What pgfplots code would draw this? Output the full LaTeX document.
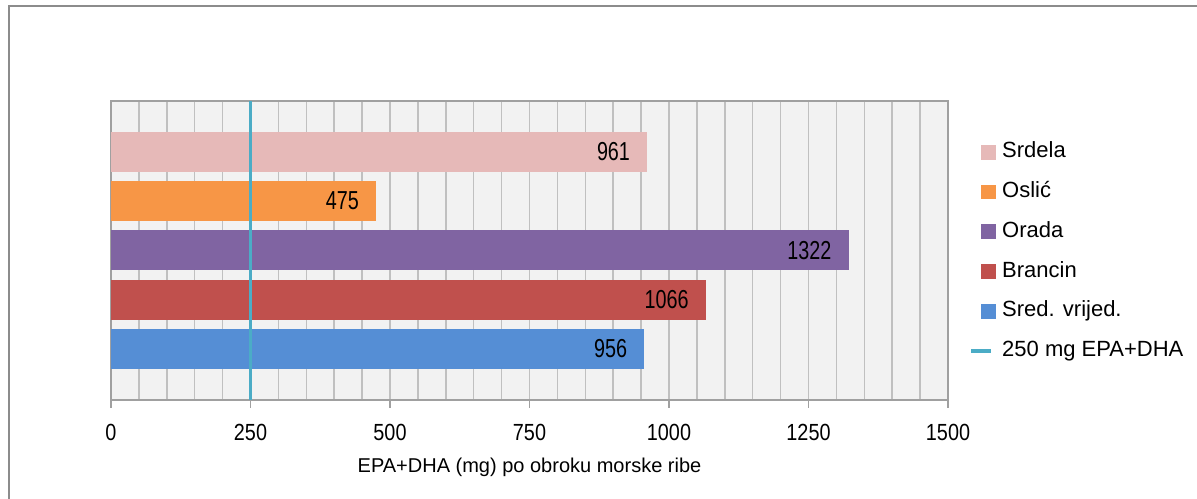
\documentclass[border=0pt]{standalone}
\usepackage{fontspec}
\setmainfont{Liberation Sans}
\newfontfamily\barfont[FakeStretch=0.76]{Liberation Sans}
\newfontfamily\tickfont[FakeStretch=0.85]{Liberation Sans}
\usepackage{pgfplots}
\pgfplotsset{compat=1.18}

\definecolor{srdela}{HTML}{E6B9B8}
\definecolor{oslic}{HTML}{F79646}
\definecolor{orada}{HTML}{8064A2}
\definecolor{brancin}{HTML}{C0504D}
\definecolor{sred}{HTML}{558ED5}
\definecolor{limit}{HTML}{4BACC6}
\definecolor{plotbg}{HTML}{F2F2F2}
\definecolor{gridgray}{HTML}{C0C0C0}
\definecolor{axisgray}{HTML}{A0A0A0}
\definecolor{framegray}{HTML}{8C8C8C}

\pgfplotsset{
  barleg/.style={legend image code/.code={
      \path[draw=none, fill=none] (0pt,-5.6pt) rectangle (18.75pt,5.6pt);
      \fill[##1, draw=none] (7.5pt,-5.6pt) rectangle (18.75pt,5.6pt);}},
  lineleg/.style={legend image code/.code={
      \path[draw=none, fill=none] (0pt,-5.6pt) rectangle (18.75pt,5.6pt);
      \draw[##1] (0pt,0pt) -- (15pt,0pt);}},
  serie/.style={fill=#1, draw=none, barleg,
      nodes near coords, point meta=x,
      nodes near coords style={anchor=east, inner sep=0pt, xshift=-12.75pt,
        text=black, font=\barfont\fontsize{19.5}{21}\selectfont}},
}

\begin{document}
\begin{tikzpicture}
\useasboundingbox (0,0) rectangle (897.75pt,374.25pt);
% okvir grafikona (desni i donji rub izvan slike)
\draw[framegray, line width=1.5pt] (6.75pt,-20pt) -- (6.75pt,370.1pt) -- (930pt,370.1pt);
\begin{axis}[
  at={(83.25pt,74.25pt)}, anchor=south west,
  scale only axis, width=627.75pt, height=224.25pt,
  xmin=0, xmax=1500, ymin=-1.036, ymax=5.028,
  xbar, bar width=0.811, bar shift=0pt,
  axis background/.style={fill=plotbg},
  xtick={0,250,...,1500}, minor xtick={0,50,...,1500},
  ytick=\empty,
  xmajorgrids, xminorgrids,
  major grid style={gridgray, line width=1.1pt},
  minor grid style={gridgray, line width=1.1pt},
  axis line style={axisgray, line width=1.5pt},
  tick style={axisgray, line width=1.1pt},
  xtick pos=bottom, xtick align=outside,
  major tick length=6pt, minor tick length=0pt,
  /pgf/number format/1000 sep={},
  /pgf/number format/assume math mode=true,
  xticklabel style={font=\tickfont\fontsize{17.5}{19}\selectfont, anchor=north,
    inner sep=0pt, yshift=-12pt},
  xlabel={EPA+DHA (mg) po obroku morske ribe},
  xlabel style={at={(axis description cs:0.5,0)}, anchor=north, inner sep=0pt,
    yshift=-43.5pt, font=\fontsize{15}{17}\selectfont},
  legend cell align=left,
  legend style={at={(axis description cs:1.0251,0.864)}, anchor=north west,
    draw=none, fill=none, inner sep=0pt, row sep=14.3pt,
    font=\fontsize{16.5}{19}\selectfont,
    nodes={inner sep=0pt, text height=12pt, text depth=3.5pt},
    /tikz/every odd column/.append style={column sep=4.5pt}},
]
\addplot[serie=srdela] coordinates {(961,4)};
\addlegendentry{Srdela}
\addplot[serie=oslic] coordinates {(475,3)};
\addlegendentry{Oslić}
\addplot[serie=orada] coordinates {(1322,2)};
\addlegendentry{Orada}
\addplot[serie=brancin] coordinates {(1066,1)};
\addlegendentry{Brancin}
\addplot[serie=sred] coordinates {(956,0)};
\addlegendentry{Sred. vrijed.}
\addplot[sharp plot, limit, line width=2.9pt, mark=none, lineleg]
  coordinates {(250,-1.036) (250,5.028)};
\addlegendentry{250 mg EPA+DHA}
\end{axis}
\end{tikzpicture}
\end{document}
